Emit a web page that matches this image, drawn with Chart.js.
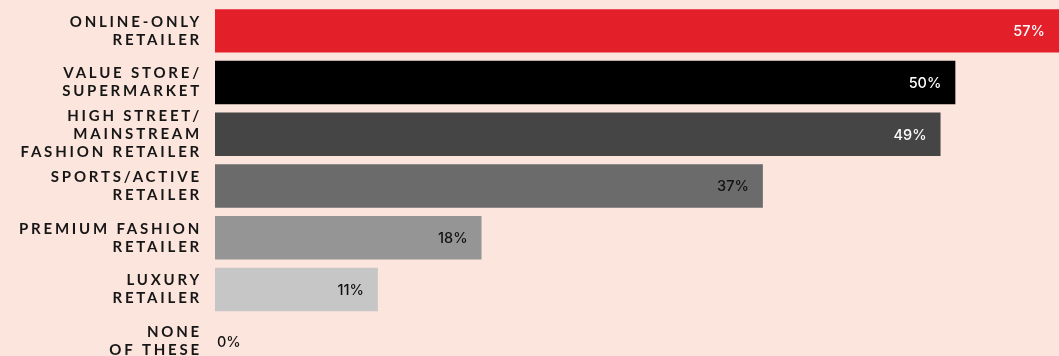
<!DOCTYPE html>
<html>
<head>
<meta charset="utf-8">
<script src="https://cdn.jsdelivr.net/npm/chart.js@4.4.1/dist/chart.umd.min.js"></script>
<style>
  html, body { margin: 0; padding: 0; background: #fce5dc; overflow: hidden; }
  #wrap { position: relative; width: 1059px; height: 367px; }
</style>
</head>
<body>
<div id="wrap"><canvas id="chart"></canvas></div>
<script>
// categories (multi-line tick labels)
const categories = [
    ["ONLINE-ONLY", "RETAILER"],
    ["VALUE STORE/", "SUPERMARKET"],
    ["HIGH STREET/", "MAINSTREAM", "FASHION RETAILER"],
    ["SPORTS/ACTIVE", "RETAILER"],
    ["PREMIUM FASHION", "RETAILER"],
    ["LUXURY", "RETAILER"],
    ["NONE", "OF THESE"]
];
const shares = [57, 50, 49, 37, 18, 11, 0];
const barColors = ["#e31f2a", "#000000", "#454545", "#6b6b6b", "#959595", "#c6c6c6", "#c6c6c6"];
const labelColors = ["#ffffff", "#ffffff", "#ffffff", "#111111", "#111111", "#111111", "#111111"];

// draws the % value at the end of each bar
const valueLabels = {
    id: "valueLabels",
    beforeDraw(chart) {
        chart.ctx.letterSpacing = "2.8px";
    },
    afterDatasetsDraw(chart) {
        const ctx = chart.ctx;
        const meta = chart.getDatasetMeta(0);
        ctx.save();
        ctx.letterSpacing = "0px";
        ctx.font = "500 14.5px Inter";
        ctx.textBaseline = "middle";
        meta.data.forEach((bar, i) => {
            const v = shares[i];
            ctx.fillStyle = labelColors[i];
            if (v === 0) {
                ctx.textAlign = "left";
                ctx.fillText(v + "%", bar.base + 2, bar.y + 1);
            } else {
                ctx.textAlign = "right";
                ctx.fillText(v + "%", bar.x - 14, bar.y + 1);
            }
        });
        ctx.restore();
    }
};

const ctx = document.getElementById("chart").getContext("2d");
new Chart(ctx, {
    type: "bar",
    data: {
        labels: categories,
        datasets: [{
            data: shares,
            backgroundColor: barColors,
            borderWidth: 0,
            barPercentage: 0.84,
            categoryPercentage: 1
        }]
    },
    options: {
        indexAxis: "y",
        responsive: true,
        maintainAspectRatio: false,
        animation: false,
        layout: { padding: { top: 5, bottom: 0, left: 0, right: 0 } },
        plugins: { legend: { display: false }, tooltip: { enabled: false } },
        scales: {
            x: {
                display: false,
                min: 0,
                max: 57
            },
            y: {
                grid: { display: false, drawTicks: false },
                border: { display: false },
                afterFit(scale) {
                    scale.width = 215;
                    scale.paddingTop = 0;
                    scale.paddingBottom = 0;
                },
                ticks: {
                    autoSkip: false,
                    padding: 13,
                    color: "#161616",
                    font: { family: "Lato", weight: "bold", size: 15, lineHeight: 1.2 }
                }
            }
        }
    },
    plugins: [valueLabels]
});
</script>
</body>
</html>
